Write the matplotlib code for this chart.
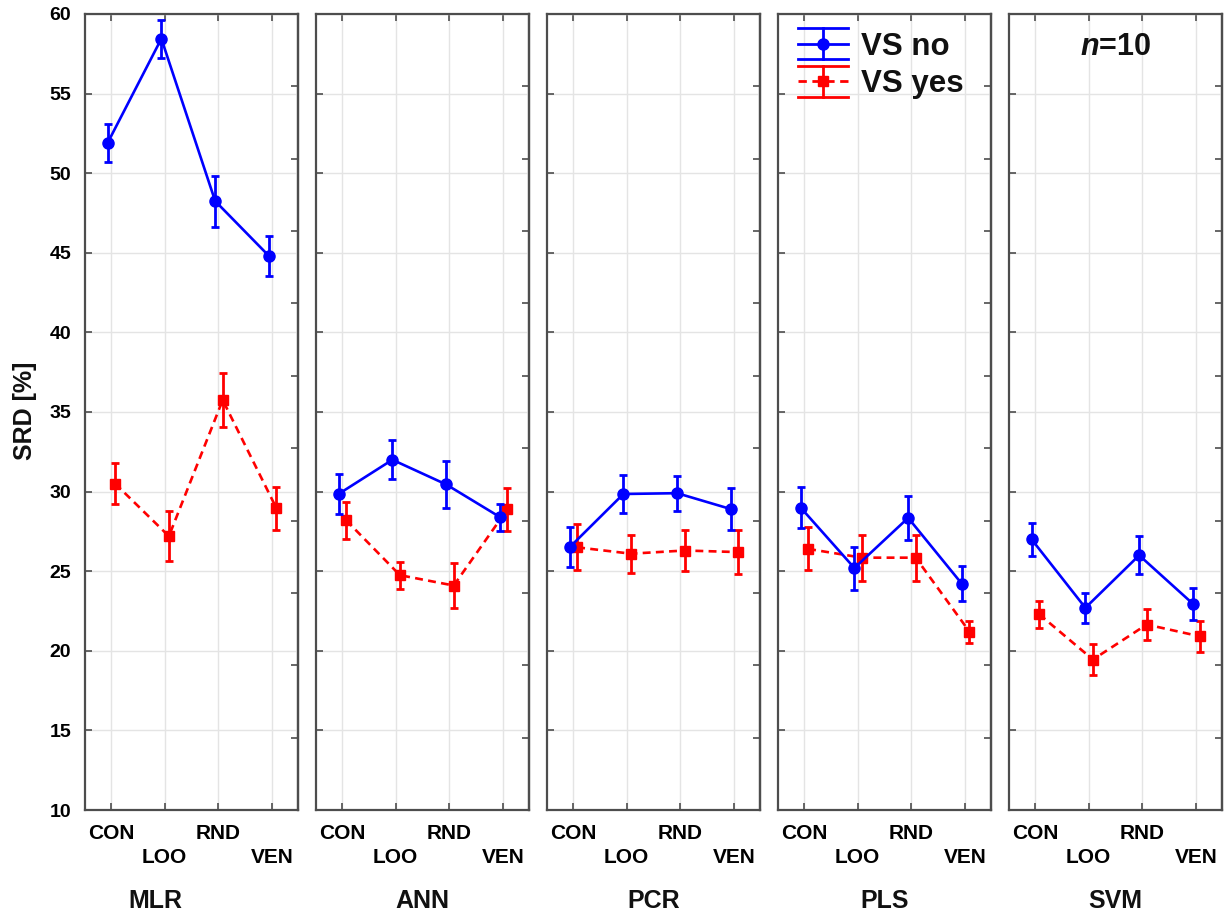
import matplotlib
matplotlib.use('Agg')
import matplotlib.pyplot as plt
import numpy as np
from matplotlib.legend_handler import HandlerBase
from matplotlib.lines import Line2D

plt.rcParams['font.family'] = ['Liberation Sans', 'DejaVu Sans']
plt.rcParams['font.weight'] = 'bold'
plt.rcParams['mathtext.fontset'] = 'custom'
plt.rcParams['mathtext.it'] = 'Liberation Sans:italic:bold'
plt.rcParams['mathtext.rm'] = 'Liberation Sans:bold'
plt.rcParams['text.color'] = '#111111'

# ---------------- data ----------------
methods = ['MLR', 'ANN', 'PCR', 'PLS', 'SVM']
validations = ['CON', 'LOO', 'RND', 'VEN']
tick_labels = ['CON', '\nLOO', 'RND', '\nVEN']
series_labels = ['VS no', 'VS yes']

vs_no_mean = [
    [51.9, 58.45, 48.25, 44.8],
    [29.85, 32.0, 30.45, 28.4],
    [26.5, 29.85, 29.9, 28.9],
    [29.0, 25.2, 28.35, 24.2],
    [27.0, 22.7, 26.0, 22.95],
]
vs_no_err = [
    [1.2, 1.2, 1.6, 1.25],
    [1.25, 1.23, 1.5, 0.85],
    [1.25, 1.2, 1.1, 1.3],
    [1.3, 1.35, 1.37, 1.1],
    [1.05, 0.95, 1.2, 1.0],
]
vs_yes_mean = [
    [30.5, 27.2, 35.75, 28.95],
    [28.2, 24.75, 24.1, 28.9],
    [26.5, 26.1, 26.3, 26.2],
    [26.4, 25.85, 25.85, 21.2],
    [22.3, 19.45, 21.65, 20.9],
]
vs_yes_err = [
    [1.3, 1.55, 1.7, 1.35],
    [1.15, 0.85, 1.4, 1.35],
    [1.45, 1.2, 1.3, 1.4],
    [1.35, 1.45, 1.45, 0.7],
    [0.85, 0.95, 1.0, 0.95],
]
panel_label_x = [0.33, 0.5, 0.5, 0.5, 0.5]

BLUE = '#0000ff'
RED = '#ff0000'
SPINE = '#4d4d4d'


class ErrHandler(HandlerBase):
    def __init__(self, color, ls, marker, ms):
        super().__init__()
        self.color, self.ls, self.marker, self.ms = color, ls, marker, ms

    def create_artists(self, legend, orig_handle, xdescent, ydescent,
                       width, height, fontsize, trans):
        x0, x1 = -xdescent, width - xdescent
        yc = height / 2 - ydescent
        h = 0.5 * fontsize
        xm = (x0 + x1) / 2
        arts = [
            Line2D([x0, x1], [yc + h, yc + h], color=self.color, lw=2),
            Line2D([x0, x1], [yc - h, yc - h], color=self.color, lw=2),
            Line2D([x0, x1], [yc, yc], color=self.color, lw=2,
                   linestyle=self.ls),
            Line2D([xm, xm], [yc - h, yc + h], color=self.color, lw=2),
            Line2D([xm], [yc], color=self.color, marker=self.marker,
                   markersize=self.ms, linestyle='none'),
        ]
        for a in arts:
            a.set_transform(trans)
        return arts


W, H = 1231, 913
fig = plt.figure(figsize=(W / 100, H / 100), dpi=100)

left0 = 85
pw = 213
gap = 18
bottom_px, top_px = 810, 14
ph = bottom_px - top_px

x = np.arange(len(validations))
axes = []
for i, m in enumerate(methods):
    lx = left0 + i * (pw + gap)
    ax = fig.add_axes([lx / W, (H - bottom_px) / H, pw / W, ph / H])
    axes.append(ax)
    ax.set_xlim(-0.48, 3.48)
    ax.set_ylim(10, 60)
    ax.set_yticks(np.arange(10, 61, 5))
    ax.set_xticks(x)
    ax.set_xticklabels(tick_labels, fontsize=15, fontweight='bold',
                       linespacing=1.36)
    ax.grid(True, color='#e4e4e4', lw=1.0)
    ax.set_axisbelow(True)
    ax.tick_params(axis='x', direction='in', top=True, bottom=True,
                   length=5, width=1.2, color=SPINE, pad=10)
    ax.tick_params(axis='y', direction='in', left=True, right=False,
                   length=5, width=1.2, color=SPINE, pad=10,
                   labelsize=14, labelleft=(i == 0))
    for sp in ax.spines.values():
        sp.set_color(SPINE)
        sp.set_linewidth(1.6)
    sec = ax.secondary_yaxis('right')
    sec.set_yticks(np.linspace(10, 60, 12))
    sec.tick_params(direction='in', length=5, width=1.2, color=SPINE,
                    labelright=False)
    sec.spines['right'].set_color(SPINE)
    sec.spines['right'].set_linewidth(1.6)

    c_no = ax.errorbar(x - 0.06, vs_no_mean[i], yerr=vs_no_err[i],
                       color=BLUE, lw=1.9, marker='o', markersize=8,
                       elinewidth=2, capsize=3, capthick=2, zorder=4)
    c_yes = ax.errorbar(x + 0.08, vs_yes_mean[i], yerr=vs_yes_err[i],
                        color=RED, lw=1.9, linestyle='--', dashes=(3, 2),
                        marker='s', markersize=7.5, elinewidth=2,
                        capsize=3, capthick=2, zorder=3)
    ax.text(panel_label_x[i], -(908 - bottom_px) / ph, m,
            transform=ax.transAxes, ha='center', va='baseline',
            fontsize=18, fontweight='bold')
    if m == 'PLS':
        ax.legend([c_no, c_yes], series_labels,
                  handler_map={c_no: ErrHandler(BLUE, '-', 'o', 8),
                               c_yes: ErrHandler(RED, (0, (3, 2)), 's', 7.5)},
                  loc='upper left', bbox_to_anchor=(0.095, 0.978),
                  frameon=False, prop={'size': 22.5, 'weight': 'bold'},
                  handlelength=1.6, handletextpad=0.4, labelspacing=0.25,
                  borderpad=0, borderaxespad=0)
    if m == 'SVM':
        ax.text(0.5, (bottom_px - 55) / ph, r'$n$=10',
                transform=ax.transAxes, ha='center', va='baseline',
                fontsize=22, fontweight='bold')

fig.text(25 / W, 1 - 411 / H, 'SRD [%]', rotation=90, ha='center',
         va='center', fontsize=18, fontweight='bold')

fig.savefig('out.png', dpi=100)
